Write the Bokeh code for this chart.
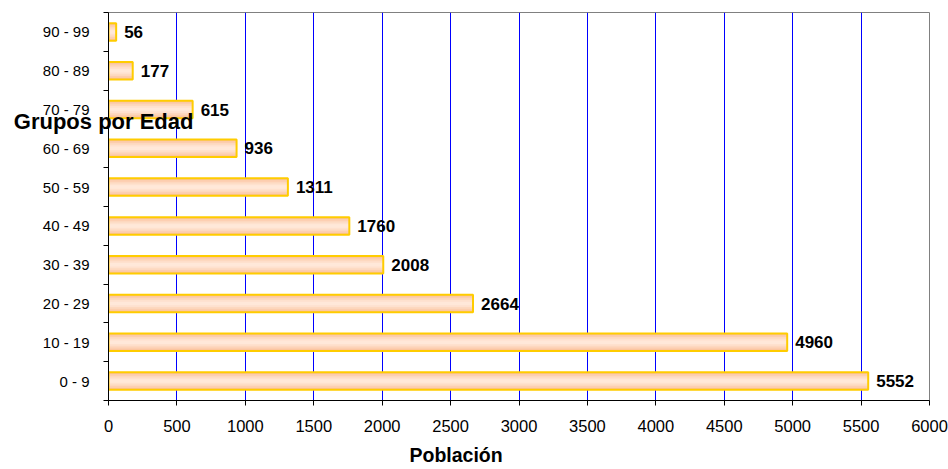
from bokeh.plotting import figure
from bokeh.models import Range1d, FixedTicker, ColumnDataSource, Title, LinearAxis
from bokeh.core.properties import value
from bokeh.embed import file_html
from bokeh.resources import INLINE

groups = ["0 - 9", "10 - 19", "20 - 29", "30 - 39", "40 - 49",
          "50 - 59", "60 - 69", "70 - 79", "80 - 89", "90 - 99"]
poblacion = [5552, 4960, 2664, 2008, 1760, 1311, 936, 615, 177, 56]
x_ticks = [0, 500, 1000, 1500, 2000, 2500, 3000, 3500, 4000, 4500, 5000, 5500, 6000]
y_title = "Grupos por Edad"
x_title = "Población"

FONT = "Liberation Sans"

ypos = [i + 0.5 for i in range(len(groups))]
src = ColumnDataSource(dict(y=ypos, x=poblacion, lbl=[str(v) for v in poblacion]))

p = figure(frame_width=821, frame_height=388, output_backend="svg", toolbar_location=None,
           x_range=Range1d(0, 6000), y_range=Range1d(0, len(groups)),
           min_border_left=108, min_border_right=19, min_border_top=12, min_border_bottom=69)
p.background_fill_color = "white"
p.border_fill_color = "white"
p.outline_line_color = "#808080"
p.outline_line_width = 1

# gradient-like bars
bar_h = 0.45
layers = [(1.0, "#FBC29C"), (0.8, "#FCCDAE"), (0.6, "#FDD8BF"), (0.4, "#FEE1CE"), (0.2, "#FFE8D9")]
for frac, col in layers:
    p.hbar(y="y", right="x", left=0, height=bar_h * frac, source=src,
           fill_color=col, line_color=None)
p.hbar(y="y", right="x", left=0, height=bar_h, source=src,
       fill_alpha=0, line_color="#FFCC00", line_width=2)

p.text(x="x", y="y", text="lbl", source=src, x_offset=8, text_baseline="middle",
       text_align="left", text_font=value(FONT), text_font_style="bold",
       text_font_size="17px", text_color="black")

# x axis
p.xaxis.ticker = FixedTicker(ticks=x_ticks)
p.xaxis.major_tick_in = 0
p.xaxis.major_tick_out = 5
p.xaxis.minor_tick_out = 0
p.xaxis.minor_tick_in = 0
p.xaxis.axis_line_color = "black"
p.xaxis.major_tick_line_color = "black"
p.xaxis.major_label_text_font = FONT
p.xaxis.major_label_text_font_size = "16.5px"
p.xaxis.major_label_text_color = "black"
p.xaxis.major_label_standoff = 14

# y axis
p.yaxis.ticker = FixedTicker(ticks=ypos, minor_ticks=list(range(len(groups) + 1)))
p.yaxis.major_label_overrides = {yv: g for yv, g in zip(ypos, groups)}
p.yaxis.major_tick_in = 0
p.yaxis.major_tick_out = 0
p.yaxis.minor_tick_in = 0
p.yaxis.minor_tick_out = 5
p.yaxis.minor_tick_line_color = "black"
p.yaxis.axis_line_color = "black"
p.yaxis.major_label_text_font = FONT
p.yaxis.major_label_text_font_size = "15px"
p.yaxis.major_label_text_color = "black"
p.yaxis.major_label_standoff = 14

# y-axis title, drawn as the single tick label of an extra bare axis
title_tick = 7.2
ax2 = LinearAxis(ticker=FixedTicker(ticks=[title_tick], minor_ticks=[]),
                 major_label_overrides={title_tick: y_title},
                 axis_line_color=None, major_tick_line_color=None, minor_tick_line_color=None,
                 major_tick_in=0, major_tick_out=0, minor_tick_in=0, minor_tick_out=0,
                 major_label_standoff=-154, major_label_text_font=FONT,
                 major_label_text_font_style="bold", major_label_text_font_size="22px",
                 major_label_text_color="black")
p.add_layout(ax2, "left")

# grid
p.xgrid.ticker = FixedTicker(ticks=x_ticks[1:-1])
p.xgrid.grid_line_color = "#0000FF"
p.xgrid.grid_line_width = 1
p.ygrid.grid_line_color = None

p.add_layout(Title(text=x_title, align="left", offset=301, text_font=FONT,
                   text_font_style="bold", text_font_size="19.5px", text_color="black",
                   standoff=14), "below")

open("out.html", "w").write(file_html(p, INLINE))
